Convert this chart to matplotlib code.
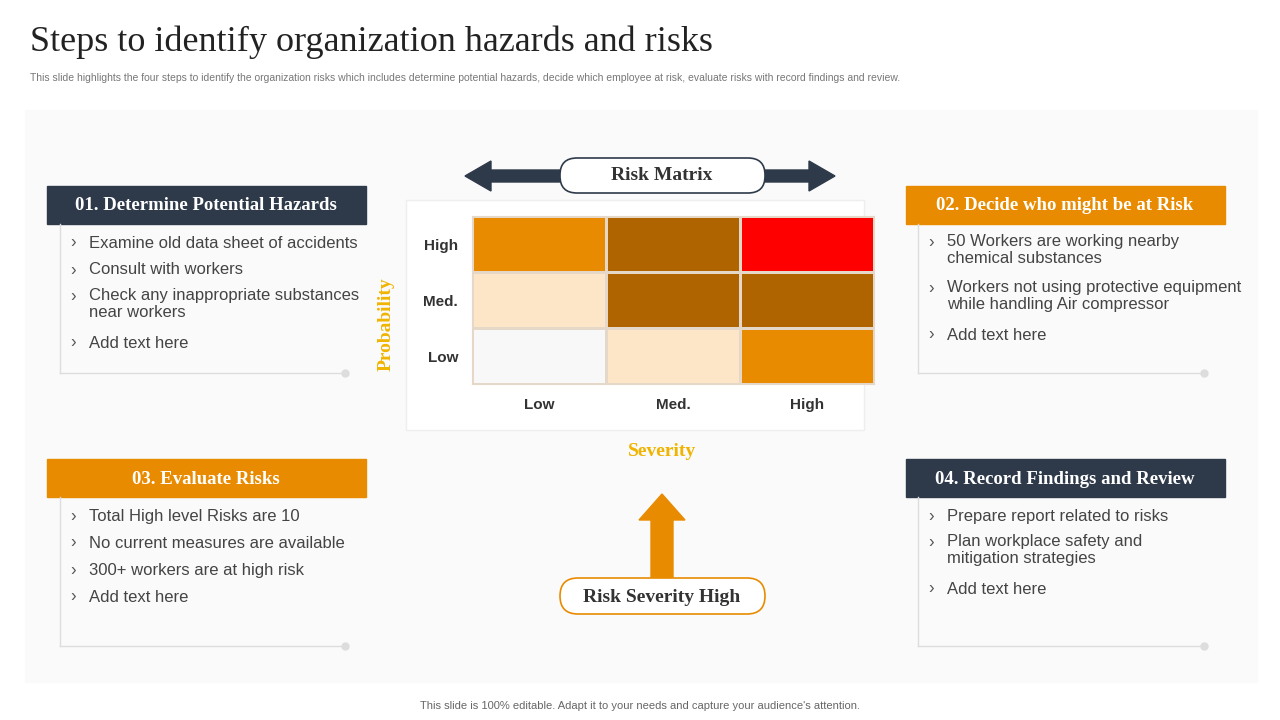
import matplotlib.pyplot as plt
import numpy as np
from matplotlib.colors import ListedColormap
from matplotlib.patches import Rectangle, FancyBboxPatch, FancyArrow, Polygon

# risk matrix data: 0 none, 1 low, 2 medium, 3 high, 4 extreme
prob_labels = ["High", "Med.", "Low"]
sev_labels = ["Low", "Med.", "High"]
risk_levels = [[2, 3, 4],
               [1, 3, 3],
               [0, 1, 2]]
level_colors = ["#F8F8F8", "#FDE6C8", "#E98B00", "#B06400", "#FF0000"]

steps = [
    ("01. Determine Potential Hazards", ["Examine old data sheet of accidents", "Consult with workers",
      "Check any inappropriate substances\nnear workers", "Add text here"]),
    ("02. Decide who might be at Risk", ["50 Workers are working nearby\nchemical substances",
      "Workers not using protective equipment\nwhile handling Air compressor", "Add text here"]),
    ("03. Evaluate Risks", ["Total High level Risks are 10", "No current measures are available",
      "300+ workers are at high risk", "Add text here"]),
    ("04. Record Findings and Review", ["Prepare report related to risks",
      "Plan workplace safety and\nmitigation strategies", "Add text here"]),
]

NAVY = "#2E3A4A"
ORANGE = "#E98B00"
SERIF = "Liberation Serif"
SANS = "Liberation Sans"

fig = plt.figure(figsize=(12.8, 7.2), dpi=100)
ax = fig.add_axes([0, 0, 1, 1])
ax.set_xlim(0, 1280)
ax.set_ylim(720, 0)
ax.axis("off")

ax.text(30, 42, "Steps to identify organization hazards and risks", fontsize=26,
        family=SERIF, va="center", color="#222222")
ax.text(30, 78, "This slide highlights the four steps to identify the organization risks which includes determine "
        "potential hazards, decide which employee at risk, evaluate risks with record findings and review.",
        fontsize=7.5, family=SANS, color="#777777", va="center")
ax.add_patch(Rectangle((25, 110), 1232, 572, color="#FAFAFA", zorder=0))
ax.add_patch(Rectangle((406, 200), 458, 230, facecolor="white", edgecolor="#EEEEEE", zorder=0.5))
ax.text(640, 706, "This slide is 100% editable. Adapt it to your needs and capture your audience's attention.",
        fontsize=8, family=SANS, color="#666666", ha="center", va="center")

# step boxes
positions = [(47, 186, 60, 345, "L"), (906, 186, 918, 1204, "R"),
             (47, 459, 60, 345, "L"), (906, 459, 918, 1204, "R")]
head_colors = [NAVY, ORANGE, ORANGE, NAVY]
for (title, items), (hx, hy, lx, ex, side), hc in zip(steps, positions, head_colors):
    ax.add_patch(Rectangle((hx, hy), 319, 38, color=hc, zorder=2))
    ax.text(hx + 159, hy + 20, title, fontsize=13.5, family=SERIF, fontweight="bold",
            color="white", ha="center", va="center", zorder=3)
    bottom = hy + 187
    ax.plot([lx, lx], [hy + 38, bottom], color="#DDDDDD", lw=1)
    ax.plot([lx, ex], [bottom, bottom], color="#DDDDDD", lw=1)
    ax.plot(ex, bottom, "o", color="#DDDDDD", ms=5)
    y = hy + 57
    for it in items:
        ax.text(lx + 10, y, "\u203a", fontsize=12, family=SANS, color="#555555", va="center")
        ax.text(lx + 29, y, it, fontsize=12, family=SANS, color="#444444", va="top",
                linespacing=1.15) if "\n" in it else \
            ax.text(lx + 29, y, it, fontsize=12, family=SANS, color="#444444", va="center")
        if "\n" in it:
            ax.texts[-1].set_y(y - 9)
            y += 46
        else:
            y += 27

# arrows and pills
ax.add_patch(FancyArrow(490, 176, 345, 0, width=12, head_width=30, head_length=26,
                        length_includes_head=True, color=NAVY, zorder=2))
ax.add_patch(FancyArrow(490, 176, -25, 0, width=12, head_width=30, head_length=26,
                        length_includes_head=True, color=NAVY, zorder=2))
ax.add_patch(FancyBboxPatch((560, 158), 205, 35, boxstyle="round,pad=0,rounding_size=17",
                            facecolor="white", edgecolor=NAVY, lw=1.2, zorder=3))
ax.text(662, 176, "Risk Matrix", fontsize=14, family=SERIF, fontweight="bold",
        color="#333333", ha="center", va="center", zorder=4)
ax.add_patch(FancyArrow(662, 580, 0, -86, width=22, head_width=46, head_length=26,
                        length_includes_head=True, color=ORANGE, zorder=2))
ax.add_patch(FancyBboxPatch((560, 578), 205, 36, boxstyle="round,pad=0,rounding_size=18",
                            facecolor="white", edgecolor=ORANGE, lw=1.2, zorder=3))
ax.text(662, 597, "Risk Severity High", fontsize=14, family=SERIF, fontweight="bold",
        color="#333333", ha="center", va="center", zorder=4)
ax.text(662, 452, "Severity", fontsize=14, family=SERIF, fontweight="bold",
        color="#F0B400", ha="center", va="center")
ax.text(386, 324, "Probability", fontsize=14, family=SERIF, fontweight="bold",
        color="#F0B400", ha="center", va="center", rotation=90)

# heatmap
hax = fig.add_axes([472 / 1280, 1 - 384 / 720, 402 / 1280, 168 / 720])
hax.pcolormesh(np.array(risk_levels)[::-1], cmap=ListedColormap(level_colors), vmin=-0.5, vmax=4.5,
               edgecolors="#E6D8C8", linewidth=1)
hax.set_xticks(np.arange(3) + 0.5, sev_labels)
hax.set_yticks(np.arange(3) + 0.5, prob_labels[::-1])
hax.tick_params(length=0, labelsize=11, pad=10, labelcolor="#333333")
for lab in hax.get_xticklabels() + hax.get_yticklabels():
    lab.set_fontweight("bold")
    lab.set_family(SANS)
for s in hax.spines.values():
    s.set_color("#E6D8C8")

fig.savefig("out.png", dpi=100)
